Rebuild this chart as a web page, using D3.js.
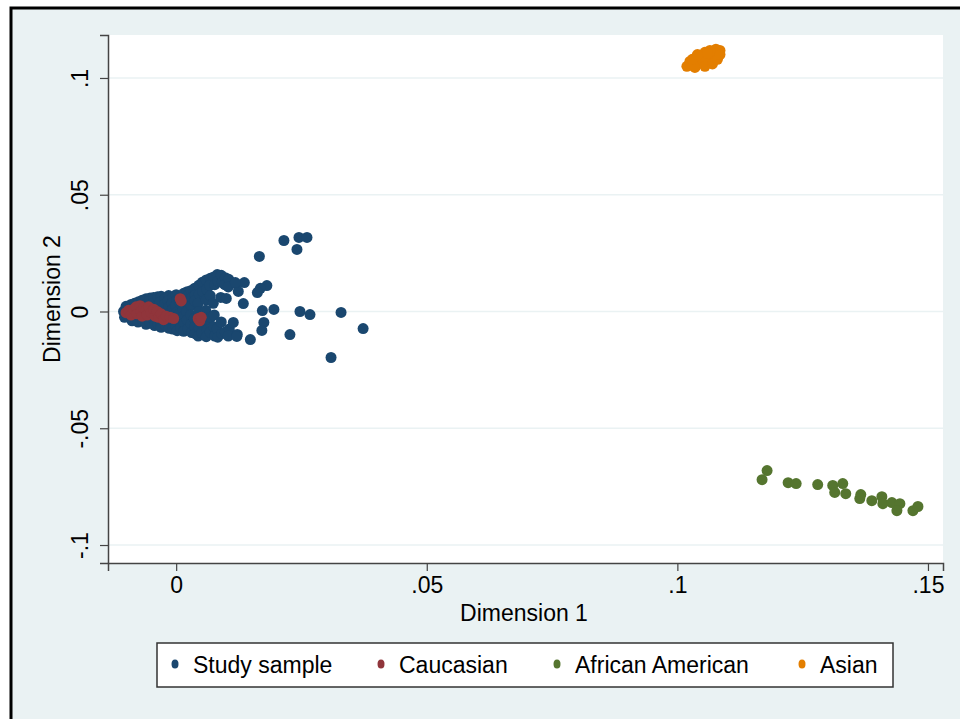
<!DOCTYPE html>
<html>
<head>
<meta charset="utf-8">
<script src="https://cdn.jsdelivr.net/npm/d3@7"></script>
<style>
  body { margin: 0; background: #fff; }
  svg { display: block; font-family: "Liberation Sans", Arial, sans-serif; }
</style>
</head>
<body>
<svg id="chart" width="960" height="719"></svg>
<script>
// series values: [dimension 1, dimension 2]
const studySample = [
  [-0.0105, 0.0000], [-0.0103, -0.0025], [-0.0100, 0.0022],
  [-0.0098, 0.0010], [-0.0097, -0.0015],
  [-0.0090, 0.0030], [-0.0090, -0.0010], [-0.0088, -0.0040], [-0.0092, 0.0012],
  [-0.0083, 0.0035], [-0.0082, 0.0000], [-0.0083, -0.0030],
  [-0.0075, 0.0042], [-0.0077, 0.0015], [-0.0074, -0.0018], [-0.0076, -0.0045],
  [-0.0068, 0.0048], [-0.0067, 0.0020], [-0.0068, -0.0010], [-0.0067, -0.0040],
  [-0.0060, 0.0055], [-0.0062, 0.0030], [-0.0060, -0.0005], [-0.0058, -0.0030], [-0.0060, -0.0055],
  [-0.0052, 0.0058], [-0.0053, 0.0045], [-0.0052, 0.0020], [-0.0051, -0.0020], [-0.0052, -0.0048],
  [-0.0045, 0.0060], [-0.0046, 0.0035], [-0.0044, 0.0010], [-0.0045, -0.0035], [-0.0043, -0.0060],
  [-0.0037, 0.0063], [-0.0038, 0.0025], [-0.0037, -0.0005], [-0.0036, -0.0055],
  [-0.0030, 0.0065], [-0.0032, 0.0040], [-0.0030, 0.0015], [-0.0029, -0.0015], [-0.0031, -0.0045], [-0.0030, -0.0068],
  [-0.0022, 0.0055], [-0.0023, 0.0030], [-0.0022, -0.0030], [-0.0021, -0.0060],
  [-0.0015, 0.0068], [-0.0016, 0.0045], [-0.0014, 0.0020], [-0.0015, -0.0010], [-0.0016, -0.0040], [-0.0014, -0.0072],
  [-0.0007, 0.0060], [-0.0008, 0.0035], [-0.0007, 0.0010], [-0.0008, -0.0020], [-0.0007, -0.0075],
  [0.0000, 0.0072], [0.0001, 0.0048], [-0.0001, 0.0025], [0.0000, -0.0005], [0.0001, -0.0035], [0.0000, -0.0065], [0.0002, -0.0082],
  [0.0008, 0.0065], [0.0008, 0.0035], [0.0007, -0.0010], [0.0008, -0.0045], [0.0009, -0.0070],
  [0.0015, 0.0078], [0.0016, 0.0050], [0.0014, 0.0010], [0.0015, -0.0020], [0.0016, -0.0050], [0.0015, -0.0085],
  [0.0022, 0.0085], [0.0023, 0.0068], [0.0022, 0.0040], [0.0021, 0.0000], [0.0022, -0.0035], [0.0023, -0.0075],
  [0.0030, 0.0090], [0.0031, 0.0060], [0.0030, 0.0025], [0.0029, -0.0015], [0.0030, -0.0055], [0.0031, -0.0090],
  [0.0037, 0.0100], [0.0038, 0.0070], [0.0037, 0.0045], [0.0036, -0.0030], [0.0037, -0.0065], [0.0038, -0.0095],
  [0.0045, 0.0112], [0.0046, 0.0075], [0.0044, 0.0035], [0.0045, 0.0000], [0.0046, -0.0070], [0.0044, -0.0105],
  [0.0052, 0.0125], [0.0053, 0.0085], [0.0052, -0.0055], [0.0051, -0.0092],
  [0.0060, 0.0135], [0.0061, 0.0095], [0.0060, 0.0050], [0.0059, 0.0005], [0.0060, -0.0040], [0.0061, -0.0080], [0.0060, -0.0108],
  [0.0068, 0.0142], [0.0067, 0.0112], [0.0068, 0.0068], [0.0069, -0.0025], [0.0068, -0.0088],
  [0.0075, 0.0148], [0.0077, 0.0115], [0.0074, 0.0035], [0.0076, -0.0015], [0.0075, -0.0065], [0.0077, -0.0105],
  [0.0082, 0.0158], [0.0083, 0.0130], [0.0082, -0.0075], [0.0083, -0.0110],
  [0.0090, 0.0155], [0.0092, 0.0125], [0.0089, 0.0060], [0.0090, -0.0045], [0.0091, -0.0095],
  [0.0098, 0.0145], [0.0097, 0.0115], [0.0098, -0.0088],
  [0.0105, 0.0138], [0.0104, 0.0105], [0.0106, -0.0075], [0.0104, -0.0105],
  [0.0120, 0.0118], [0.0122, -0.0098],
  [0.0215, 0.0304], [0.0245, 0.0317], [0.0261, 0.0317], [0.0241, 0.0266], [0.0166, 0.0236],
  [0.0136, 0.0124], [0.0181, 0.0111], [0.0168, 0.0099], [0.0162, 0.0081], [0.0134, 0.0034],
  [0.0172, 0.0004], [0.0195, 0.0009], [0.0247, 0.0000], [0.0267, -0.0013], [0.0329, -0.0004],
  [0.0373, -0.0073], [0.0309, -0.0197], [0.0227, -0.0099], [0.0175, -0.0047], [0.0171, -0.0081],
  [0.0148, -0.0120], [0.0121, -0.0107], [0.0114, -0.0047], [0.0100, 0.0056], [0.0124, 0.0086], [0.0118, 0.0124]
];

const caucasian = [
  [-0.0100, -0.0005], [-0.0095, 0.0005], [-0.0090, -0.0015], [-0.0085, 0.0010], [-0.0080, 0.0020],
  [-0.0078, -0.0010], [-0.0072, 0.0025], [-0.0070, 0.0000], [-0.0068, -0.0020], [-0.0065, 0.0015],
  [-0.0060, 0.0005], [-0.0058, -0.0015], [-0.0055, 0.0020], [-0.0050, -0.0005], [-0.0045, 0.0010],
  [-0.0042, -0.0020], [-0.0038, 0.0000], [-0.0035, -0.0025], [-0.0030, -0.0010], [-0.0025, -0.0035],
  [-0.0020, -0.0020], [-0.0012, -0.0025], [-0.0005, -0.0030],
  [0.0008, 0.0055], [0.0010, 0.0045], [0.0044, -0.0030], [0.0047, -0.0040], [0.0050, -0.0025]
];

const africanAmerican = [
  [0.1179, -0.0681], [0.1169, -0.0720], [0.1221, -0.0733], [0.1237, -0.0737], [0.1280, -0.0741],
  [0.1310, -0.0745], [0.1314, -0.0775], [0.1330, -0.0737], [0.1336, -0.0780], [0.1366, -0.0784],
  [0.1364, -0.0801], [0.1388, -0.0810], [0.1408, -0.0793], [0.1410, -0.0823], [0.1428, -0.0818],
  [0.1444, -0.0823], [0.1438, -0.0853], [0.1470, -0.0853], [0.1480, -0.0835]
];

const asian = [
  [0.1019, 0.1050], [0.1025, 0.1071], [0.1035, 0.1084], [0.1045, 0.1097], [0.1055, 0.1110],
  [0.1065, 0.1118], [0.1077, 0.1123], [0.1085, 0.1118], [0.1045, 0.1067], [0.1057, 0.1075],
  [0.1069, 0.1093], [0.1041, 0.1084], [0.1031, 0.1058], [0.1053, 0.1088], [0.1075, 0.1105], [0.1051, 0.1063],
  [0.1035, 0.1045], [0.1055, 0.1050], [0.1070, 0.1060], [0.1080, 0.1080], [0.1030, 0.1080],
  [0.1040, 0.1100], [0.1060, 0.1105], [0.1085, 0.1100]
];

const seriesNames = ["Study sample", "Caucasian", "African American", "Asian"];
const seriesColors = ["#1a476f", "#90353b", "#55752f", "#e37e00"];
const xTicks = [0, 0.05, 0.1, 0.15];
const yTicks = [-0.1, -0.05, 0, 0.05, 0.1];

const stataFmt = d => d === 0 ? "0" : String(d).replace("0.", ".");

const svg = d3.select("#chart");

// outer graph region
svg.append("rect")
  .attr("x", 11).attr("y", 8)
  .attr("width", 960).attr("height", 730)
  .attr("fill", "#eaf2f3")
  .attr("stroke", "#000")
  .attr("stroke-width", 3);

const x = d3.scaleLinear().domain([-0.0136, 0.1530]).range([108, 943]);
const y = d3.scaleLinear().domain([-0.1077, 0.1184]).range([563, 35]);

// plot region
svg.append("rect")
  .attr("x", x.range()[0]).attr("y", y.range()[1])
  .attr("width", x.range()[1] - x.range()[0])
  .attr("height", y.range()[0] - y.range()[1])
  .attr("fill", "#fff");

svg.append("g")
  .selectAll("line")
  .data(yTicks)
  .join("line")
  .attr("x1", x.range()[0]).attr("x2", x.range()[1])
  .attr("y1", d => y(d)).attr("y2", d => y(d))
  .attr("stroke", "#eaf2f3")
  .attr("stroke-width", 1.5);

// points
const series = [studySample, caucasian, africanAmerican, asian];
series.forEach((data, i) => {
  svg.append("g")
    .selectAll("circle")
    .data(data)
    .join("circle")
    .attr("cx", d => x(d[0]))
    .attr("cy", d => y(d[1]))
    .attr("r", 5.5)
    .attr("fill", seriesColors[i]);
});

// axes
const xAxis = svg.append("g")
  .attr("transform", `translate(0,${y.range()[0]})`)
  .call(d3.axisBottom(x).tickValues(xTicks).tickFormat(stataFmt).tickSizeOuter(0).tickSize(8).tickPadding(6));

const yAxis = svg.append("g")
  .attr("transform", `translate(${x.range()[0]},0)`)
  .call(d3.axisLeft(y).tickValues(yTicks).tickFormat(stataFmt).tickSizeOuter(0).tickSize(8));

[xAxis, yAxis].forEach(a => {
  a.select(".domain").attr("stroke", "#444").attr("stroke-width", 1.5);
  a.selectAll(".tick line").attr("stroke", "#444").attr("stroke-width", 1.2);
  a.selectAll("text").attr("font-size", 23).attr("fill", "#000")
    .attr("font-family", "'Liberation Sans', Arial, sans-serif");
});

yAxis.selectAll(".tick text")
  .attr("x", null).attr("dy", null)
  .attr("text-anchor", "middle")
  .attr("transform", "translate(-20,0) rotate(-90)");

// axis titles
svg.append("text")
  .attr("x", 524).attr("y", 621)
  .attr("text-anchor", "middle")
  .attr("font-size", 23)
  .text("Dimension 1");

svg.append("text")
  .attr("transform", `translate(60,${(y.range()[0] + y.range()[1]) / 2}) rotate(-90)`)
  .attr("text-anchor", "middle")
  .attr("font-size", 23)
  .text("Dimension 2");

// legend
const legend = svg.append("g");
legend.append("rect")
  .attr("x", 157).attr("y", 643)
  .attr("width", 736).attr("height", 44)
  .attr("fill", "#fff")
  .attr("stroke", "#333")
  .attr("stroke-width", 1.5);

const legendX = [175, 381, 557, 802];
seriesNames.forEach((name, i) => {
  legend.append("ellipse")
    .attr("cx", legendX[i]).attr("cy", 664)
    .attr("rx", 3.5).attr("ry", 4.5)
    .attr("fill", seriesColors[i]);
  legend.append("text")
    .attr("x", legendX[i] + 18).attr("y", 673)
    .attr("font-size", 23)
    .text(name);
});
</script>
</body>
</html>
